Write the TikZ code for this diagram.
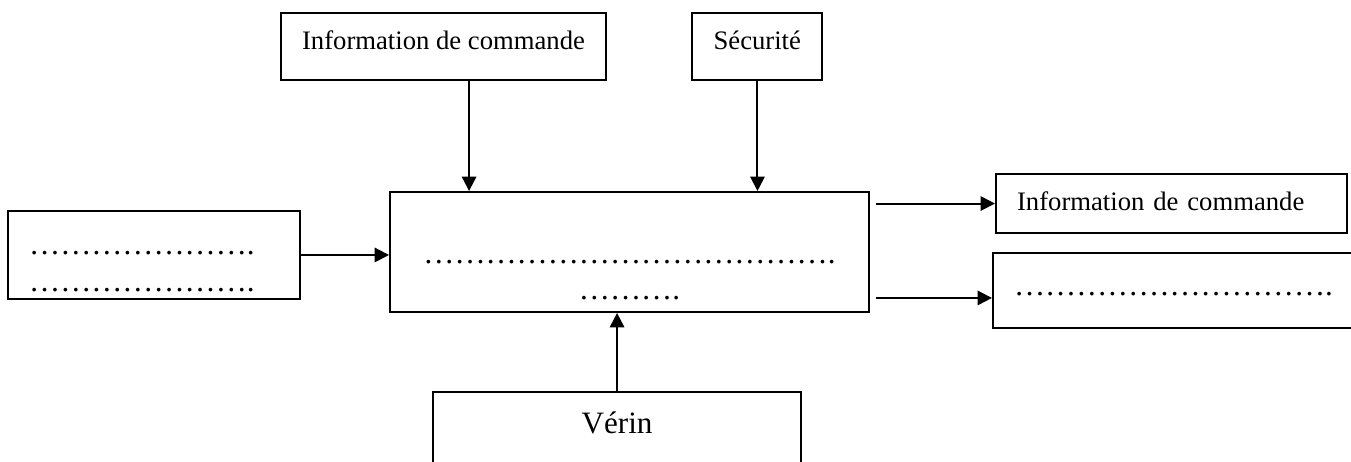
\documentclass[tikz,border=0pt]{standalone}
\usepackage{fontspec}
\setmainfont{Liberation Serif}
\usetikzlibrary{positioning, arrows.meta, calc}
\newcommand{\pointilles}[1]{\foreach \k in {1,...,#1}{…}.}

\begin{document}
\begin{tikzpicture}[
    box/.style={rectangle, draw, line width=0.9pt, inner xsep=9.5pt,
                inner ysep=0pt, align=left, font=\fontsize{12}{14}\selectfont},
    dotbox/.style={box, font=\fontsize{14}{16.4}\selectfont},
    arr/.style={-{Triangle[length=6.5pt, width=6.5pt]}, line width=0.9pt}
]
    \useasboundingbox (-283.3pt,-94.5pt) rectangle (324.7pt,113.4pt);

    % Function
    \node[dotbox, align=center, text width=196.55pt, minimum height=54pt,
          text height=12.35pt, text depth=2pt,
          font=\fontsize{14}{16.2}\selectfont] (proc)
          {\pointilles{13}\\\pointilles{3}};

    % Inputs
    \node[box, above=49.5pt of proc, xshift=-83.7pt, align=center,
          minimum width=145.35pt, minimum height=30.15pt, text height=9pt,
          text depth=5.85pt] (cmd) {Information de commande};
    \node[box, above=49.5pt of proc, xshift=57.6pt, text width=39.5pt,
          minimum height=30.15pt, text height=9pt, text depth=5.85pt] (secu)
          {Sécurité};
    \node[dotbox, left=39.6pt of proc, yshift=-1.35pt, text width=112.4pt,
          minimum height=39.6pt, text height=5pt, text depth=5.45pt,
          font=\fontsize{14}{16.65}\selectfont] (in)
          {\pointilles{7}\\\pointilles{7}};
    \node[box, below=35.1pt of proc, xshift=-5.6pt, align=center,
          minimum width=165.6pt, minimum height=40.5pt, text height=10pt,
          text depth=12.7pt, font=\fontsize{14}{16}\selectfont] (verin) {Vérin};

    % Outputs
    \node[box, right=56.25pt of proc, yshift=21.8pt, text width=138.95pt,
          minimum height=26.55pt, text height=9pt, text depth=3.15pt] (out1)
          {Information de commande};
    \node[dotbox, right=54.9pt of proc, yshift=-17.3pt, text width=161pt,
          minimum height=33.75pt, text height=5.8pt, text depth=1.3pt] (out2)
          {\pointilles{10}};

    % Arrows
    \coordinate (cmdout) at ($(cmd.south)+(11.5pt,0)$);
    \draw[arr] (cmdout) -- (cmdout |- proc.north);
    \draw[arr] (secu) -- (secu |- proc.north);
    \draw[arr] (in) -- (in -| proc.west);
    \draw[arr] (verin) -- (verin |- proc.south);
    \draw[arr] ($(proc.east |- out1)+(2.7pt,0)$) -- (out1);
    \coordinate (out2in) at ($(out2.west)+(0,-3.4pt)$);
    \draw[arr] ($(proc.east |- out2in)+(2.7pt,0)$) -- (out2in);
\end{tikzpicture}
\end{document}
